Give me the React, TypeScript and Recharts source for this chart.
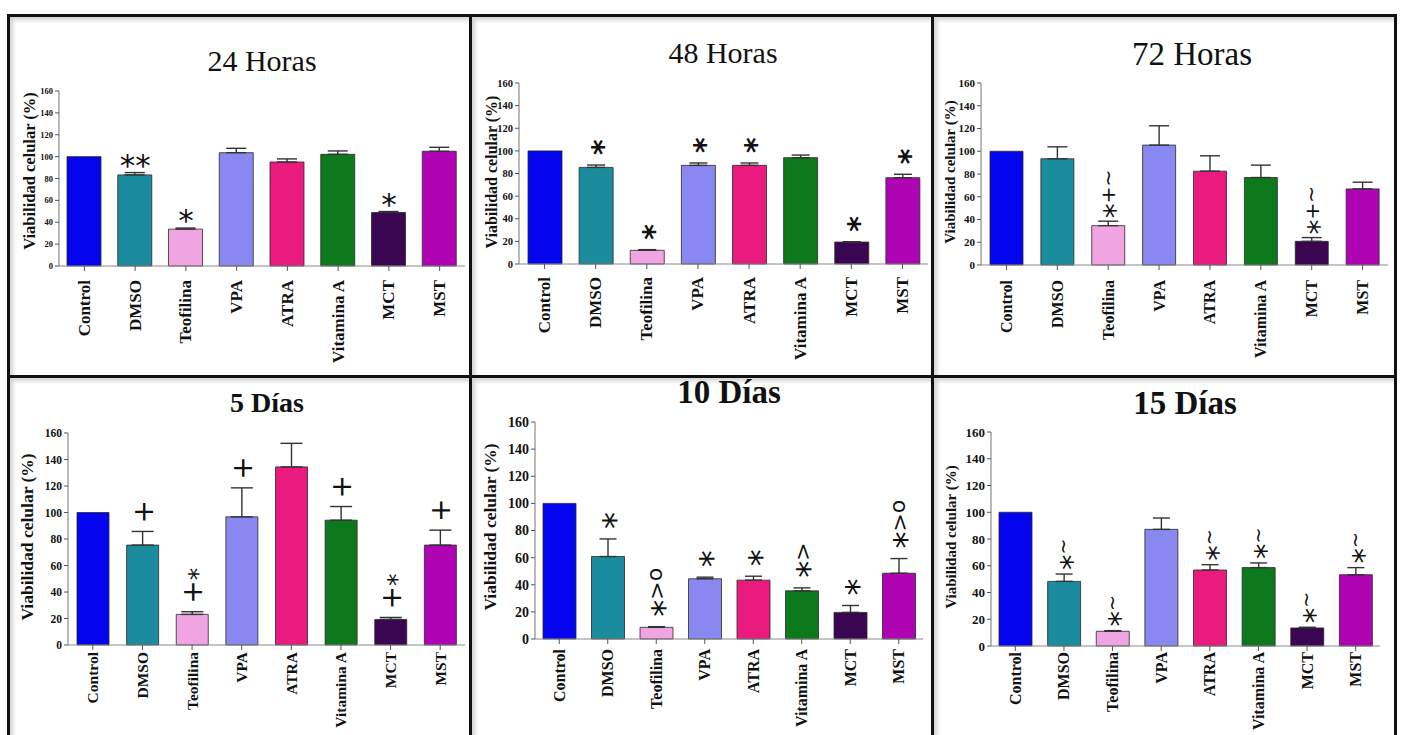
import React from 'react';
import { ComposedChart, Bar, Line, XAxis, YAxis, ErrorBar, LabelList, Cell } from 'recharts';

// ---------- data ----------
const categories = ['Control', 'DMSO', 'Teofilina', 'VPA', 'ATRA', 'Vitamina A', 'MCT', 'MST'];
const barColors = ['#0404EE', '#1A8C9E', '#F0A4E2', '#8888F0', '#EA1A7E', '#0C7A1C', '#3A0652', '#B004B4'];
const yTicks = [0, 20, 40, 60, 80, 100, 120, 140, 160];
const yLabel = 'Viabilidad celular (%)';
const titles = ['24 Horas', '48 Horas', '72 Horas', '5 Días', '10 Días', '15 Días'];

const mean24h = [100, 83.3, 33.7, 103.6, 95.1, 102.1, 48.9, 104.9];
const err24h = [0, 2.1, 1.0, 4.0, 2.8, 3.1, 0.9, 3.6];
const notes24h = ['', '**', '*', '', '', '', '*', ''];

const mean48h = [100, 85.4, 12.1, 87.2, 87.2, 94.0, 19.4, 76.3];
const err48h = [0, 2.1, 0.6, 2.1, 2.1, 2.3, 0.3, 3.0];
const notes48h = ['', '*', '*', '*', '*', '', '*', '*'];

const mean72h = [100, 93.4, 34.6, 105.4, 82.5, 76.9, 20.8, 66.9];
const err72h = [0, 10.5, 3.9, 17.0, 13.5, 10.9, 3.3, 5.9];
const notes72h = ['', '', '*+~', '', '', '', '*+~', ''];

const mean5d = [100, 75.4, 23.1, 96.7, 134.4, 94.2, 19.3, 75.4];
const err5d = [0, 10.3, 2.0, 21.9, 17.8, 10.3, 1.5, 11.3];
const notes5d = ['', '+', '+*', '+', '', '+', '+*', '+'];

const mean10d = [100, 60.8, 8.6, 44.4, 43.4, 35.5, 19.6, 48.5];
const err10d = [0, 13.0, 0.5, 1.2, 2.9, 2.2, 5.1, 10.8];
const notes10d = ['', '*', '*>o', '*', '*', '*>', '*', '*>o'];

const mean15d = [100, 48.3, 11.0, 87.2, 56.8, 58.6, 13.5, 53.3];
const err15d = [0, 5.5, 0.5, 8.5, 4.0, 3.5, 0.5, 5.3];
const notes15d = ['', '*~', '*~', '', '*~', '*~', '*~', '*~'];

const seriesSets = [
  { mean: mean24h, err: err24h, notes: notes24h },
  { mean: mean48h, err: err48h, notes: notes48h },
  { mean: mean72h, err: err72h, notes: notes72h },
  { mean: mean5d, err: err5d, notes: notes5d },
  { mean: mean10d, err: err10d, notes: notes10d },
  { mean: mean15d, err: err15d, notes: notes15d },
];

const buildRows = (s: any) =>
  categories.map((name, i) => ({
    name,
    mean: s.mean[i],
    err: s.err[i] > 0 ? [0, s.err[i]] : null,
    top: s.mean[i] + s.err[i],
    note: s.notes[i],
  }));

// ---------- layout / styles ----------
type Layout = {
  box: [number, number, number, number];
  plot: [number, number, number, number]; // left, right, top(160), bottom(0)
  title: [number, number, number, string];
  ylab: [number, number, number];
  yTickFs: number;
  xFs: number;
  xGap: number;
  bar: number;
  cap: number;
  note: { rot: boolean; starFs: number; fs: number; gap: number; bold: boolean };
};

const layouts: Layout[] = [
  { box: [7, 14, 465, 364], plot: [59, 465, 91, 266], title: [262, 61, 30, 'normal'], ylab: [30, 171, 16.5], yTickFs: 8.5, xFs: 17, xGap: 14, bar: 34, cap: 10, note: { rot: false, starFs: 31, fs: 20, gap: 9, bold: false } },
  { box: [469, 14, 465, 364], plot: [519, 928, 83, 264], title: [723, 53, 30, 'normal'], ylab: [492, 172, 16], yTickFs: 10.5, xFs: 17, xGap: 13, bar: 34, cap: 9, note: { rot: true, starFs: 30, fs: 20, gap: 10, bold: true } },
  { box: [931, 14, 466, 364], plot: [981, 1388, 83, 265], title: [1192, 54, 33, 'normal'], ylab: [950, 172, 15], yTickFs: 11, xFs: 16, xGap: 15, bar: 33, cap: 10, note: { rot: true, starFs: 30, fs: 20, gap: 3, bold: false } },
  { box: [7, 375, 465, 370], plot: [68, 465, 433, 645], title: [267, 403, 28, 'bold'], ylab: [28, 537, 17.5], yTickFs: 11.5, xFs: 15.5, xGap: 7, bar: 32, cap: 11, note: { rot: true, starFs: 25, fs: 28, gap: 8, bold: false } },
  { box: [469, 375, 465, 370], plot: [535, 923, 422, 639], title: [729, 392, 33, 'bold'], ylab: [491, 527, 17.5], yTickFs: 14, xFs: 16, xGap: 10, bar: 33, cap: 8.5, note: { rot: true, starFs: 34, fs: 22, gap: 10, bold: false } },
  { box: [931, 375, 466, 370], plot: [991, 1380, 432, 646], title: [1185, 403, 33, 'bold'], ylab: [951, 537, 15], yTickFs: 13, xFs: 16, xGap: 6, bar: 33, cap: 8.5, note: { rot: true, starFs: 31, fs: 19, gap: 4, bold: false } },
];

const glyphCenter: Record<string, number> = { '*': 0.575, '+': 0.36, '~': 0.33, '>': 0.36, o: 0.27 };

const makeNote = (cfg: Layout['note']) => (props: any) => {
  const { x, y, value } = props;
  if (!value || x == null || y == null) return null;
  const ax = x;
  const ay = y - cfg.gap;
  const fw = cfg.bold ? 'bold' : 'normal';
  if (!cfg.rot) {
    return (
      <text x={ax} y={ay + 0.4 * cfg.starFs} textAnchor="middle" fontSize={cfg.starFs} fontFamily="DejaVu Sans" fontWeight={fw} fill="#111">
        {value}
      </text>
    );
  }
  return (
    <text x={ax} y={ay} transform={`rotate(-90 ${ax} ${ay})`} textAnchor="start" fontFamily="DejaVu Sans" fontWeight={fw} fill="#111">
      {String(value).split('').map((ch: string, i: number) => {
        const fs = ch === '*' ? cfg.starFs : cfg.fs;
        return (
          <tspan key={i} fontSize={fs} y={ay + (glyphCenter[ch] ?? 0.35) * fs}>
            {ch}
          </tspan>
        );
      })}
    </text>
  );
};

const makeXTick = (fs: number, extra: number) => (props: any) => {
  const { x, y, payload } = props;
  const yy = y + extra;
  return (
    <text x={x} y={yy} transform={`rotate(-90 ${x} ${yy})`} textAnchor="end" dominantBaseline="central" fontFamily="Liberation Serif" fontWeight="bold" fontSize={fs} fill="#111">
      {payload.value}
    </text>
  );
};

const YW = 45;
const XH = 110;
const TOPM = 10;
const RIGHTM = 6;

function Panel({ idx }: { idx: number }) {
  const L = layouts[idx];
  const rows = buildRows(seriesSets[idx]);
  const [pl, pr, pt, pb] = L.plot;
  const chartLeft = pl - YW;
  const chartTop = pt - TOPM;
  const width = pr - pl + YW + RIGHTM;
  const height = pb - pt + TOPM + XH;
  return (
    <div style={{ position: 'absolute', left: chartLeft, top: chartTop, width, height }}>
      <ComposedChart width={width} height={height} data={rows} margin={{ top: TOPM, right: RIGHTM, bottom: 0, left: 0 }} style={{ overflow: 'visible' }}>
        <XAxis
          dataKey="name"
          type="category"
          interval={0}
          height={XH}
          tickSize={5}
          tickMargin={0}
          axisLine={{ stroke: '#8a8a8a', strokeWidth: 1.2 }}
          tickLine={{ stroke: '#555', strokeWidth: 1 }}
          tick={makeXTick(L.xFs, L.xGap - 5)}
        />
        <YAxis
          type="number"
          domain={[0, 160]}
          ticks={yTicks}
          interval={0}
          width={YW}
          tickSize={4}
          tickMargin={2}
          axisLine={{ stroke: '#8a8a8a', strokeWidth: 1.2 }}
          tickLine={{ stroke: '#555', strokeWidth: 1 }}
          tick={{ fontSize: L.yTickFs, fontWeight: 'bold', fill: '#111', fontFamily: 'Liberation Serif' }}
        />
        <Bar dataKey="mean" barSize={L.bar} stroke="#2a2a2a" strokeWidth={0.8} isAnimationActive={false}>
          {rows.map((r, i) => (
            <Cell key={r.name} fill={barColors[i]} />
          ))}
          <ErrorBar dataKey="err" direction="y" width={L.cap} stroke="#333" strokeWidth={1.4} isAnimationActive={false} />
        </Bar>
        <Line dataKey="top" stroke="none" dot={false} activeDot={false} isAnimationActive={false} legendType="none">
          <LabelList dataKey="note" content={makeNote(L.note)} />
        </Line>
      </ComposedChart>
    </div>
  );
}

export default function App() {
  return (
    <div style={{ position: 'absolute', left: 0, top: 0, width: 1401, height: 735, background: '#fff', overflow: 'hidden', fontFamily: 'Liberation Serif' }}>
      {layouts.map((L, i) => (
        <div
          key={'box' + i}
          style={{
            position: 'absolute',
            left: L.box[0],
            top: L.box[1],
            width: L.box[2],
            height: L.box[3],
            boxSizing: 'border-box',
            border: '3px solid #111',
            boxShadow: 'inset 3px 3px 4px rgba(0,0,0,0.18)',
          }}
        />
      ))}
      {layouts.map((_, i) => (
        <Panel key={'p' + i} idx={i} />
      ))}
      {layouts.map((L, i) => (
        <div
          key={'t' + i}
          style={{
            position: 'absolute',
            left: L.title[0],
            top: L.title[1],
            transform: 'translate(-50%, -50%)',
            fontSize: L.title[2],
            fontWeight: L.title[3] as any,
            lineHeight: 1,
            whiteSpace: 'nowrap',
            color: '#111',
            fontFamily: 'Liberation Serif',
          }}
        >
          {titles[i]}
        </div>
      ))}
      {layouts.map((L, i) => (
        <div
          key={'y' + i}
          style={{
            position: 'absolute',
            left: L.ylab[0],
            top: L.ylab[1],
            transform: 'translate(-50%, -50%) rotate(-90deg)',
            fontSize: L.ylab[2],
            fontWeight: 'bold',
            lineHeight: 1,
            whiteSpace: 'nowrap',
            color: '#111',
            fontFamily: 'Liberation Serif',
          }}
        >
          {yLabel}
        </div>
      ))}
    </div>
  );
}
